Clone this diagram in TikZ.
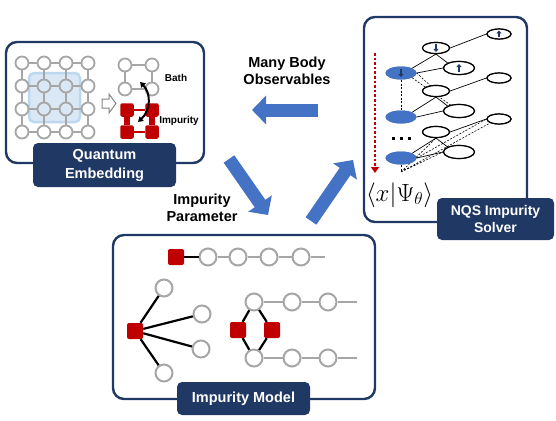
\documentclass[tikz,border=0pt]{standalone}
\usepackage{fontspec}
\setmainfont{Liberation Sans}
\usetikzlibrary{arrows.meta,shapes.geometric,calc}
\definecolor{navy}{HTML}{203864}
\definecolor{bblue}{HTML}{4472C4}
\definecolor{ired}{HTML}{C00000}
\definecolor{cgray}{HTML}{A6A6A6}
\definecolor{lblue}{HTML}{DAE8F6}
\definecolor{lblueb}{HTML}{BDD7EE}
\begin{document}
\begin{tikzpicture}[x=1pt,y=-1pt,
  panel/.style={draw=navy, line width=2.4pt, rounded corners=11pt, fill=white},
  tag/.style={fill=navy, rounded corners=5pt, text=white, font=\bfseries\fontsize{14.5}{19}\selectfont, align=center, inner sep=0pt},
  site/.style={circle, draw=cgray, line width=1.8pt, minimum size=13pt, inner sep=0pt},
  bsite/.style={circle, draw=cgray, line width=2pt, fill=white, minimum size=17pt, inner sep=0pt},
  imp/.style={fill=ired, rounded corners=2pt, minimum size=16pt, inner sep=0pt},
  simp/.style={fill=ired, rounded corners=2pt, minimum size=13.5pt, inner sep=0pt},
  glink/.style={draw=cgray, line width=2pt},
  klink/.style={draw=black, line width=2.2pt},
  rlink/.style={draw=ired, line width=2.5pt},
  bigarrow/.style={draw=bblue, line width=13pt, -{Triangle[length=14pt,width=28pt]}},
  vis/.style={ellipse, fill=bblue, minimum width=31pt, minimum height=13pt, inner sep=0pt},
  hidA/.style={ellipse, draw=black, line width=1.2pt, fill=white, minimum width=27pt, minimum height=11pt, inner sep=0pt},
  hidB/.style={ellipse, draw=black, line width=1.2pt, fill=white, minimum width=31pt, minimum height=13pt, inner sep=0pt},
  hidC/.style={ellipse, draw=black, line width=1.2pt, fill=white, minimum width=24pt, minimum height=10pt, inner sep=0pt},
  wsolid/.style={draw=black, line width=0.7pt},
  wdash/.style={draw=black, line width=0.6pt, dash pattern=on 2pt off 1.5pt},
  spin/.style={draw=navy, line width=1.6pt, -{Triangle[length=3pt,width=5pt]}},
  lbl/.style={font=\bfseries\fontsize{14.5}{17}\selectfont, align=center},
  small/.style={font=\bfseries\fontsize{10}{12}\selectfont}
]
\useasboundingbox (0,0) rectangle (556,420);

% ---------------- Quantum Embedding panel ----------------
\draw[panel] (6,42) rectangle (204,163);
\fill[lblue, draw=lblueb, line width=2.5pt, rounded corners=5pt] (29,73) rectangle (80,122);
\foreach \i in {0,1,2,3} {
  \foreach \j in {0,1,2,3} {
    \node[site] (g\i\j) at ({22+22*\i},{63+23*\j}) {};
  }
}
\foreach \i in {0,1,2,3} {
  \draw[glink] (g0\i) -- (g1\i) (g1\i) -- (g2\i) (g2\i) -- (g3\i);
  \draw[glink] (g\i0) -- (g\i1) (g\i1) -- (g\i2) (g\i2) -- (g\i3);
}
% hollow arrow
\draw[cgray!80!black, line width=1pt, fill=white]
  (102,99) -- (109,99) -- (109,94) -- (116,103.5) -- (109,113) -- (109,108) -- (102,108) -- cycle;
% bath
\node[site] (b1) at (125,65) {};
\node[site] (b2) at (152,65) {};
\node[site] (b3) at (125,89) {};
\node[site] (b4) at (152,89) {};
\draw[glink] (b1) -- (b2) (b1) -- (b3) (b2) -- (b4) (b3) -- (b4);
% impurity cluster
\node[simp] (i1) at (127,110) {};
\node[simp] (i2) at (152,110) {};
\node[simp] (i3) at (127,132) {};
\node[simp] (i4) at (152,132) {};
\draw[rlink, line width=5.5pt] (i1) -- (i3) (i2) -- (i4);
\draw[rlink, line width=2.5pt] (i1) -- (i2) (i3) -- (i4);
\node[small, anchor=center] (tbath) at (176,78) {Bath};
\node[small, anchor=center] (timp) at (179,121) {Impurity};
\coordinate (ca) at (140,82);
\coordinate (cb) at (138,122);
\draw[black, line width=2pt, {Triangle[length=5pt,width=6pt]}-{Triangle[length=5pt,width=6pt]}]
  (ca) .. controls (151,93) and (151,110) .. (cb);
\node[tag, minimum width=143pt, minimum height=44pt] (tagQE) at (104.5,165) {Quantum\\Embedding};

% ---------------- NQS panel ----------------
\draw[panel] (364,17) rectangle (527,222);
\coordinate (ra) at (375,53);
\coordinate (rb) at (375,173);
\draw[ired, line width=2.6pt, dash pattern=on 2.6pt off 2pt, -{Triangle[length=6pt,width=8pt]}] (ra) -- (rb);

\node[vis] (v1) at (401,73) {};
\node[vis] (v2) at (401,117) {};
\node[vis] (v3) at (401,158) {};
\coordinate (vb) at (401,172);

\node[hidA] (h1) at (436,48) {};
\node[hidB] (h2) at (459,68) {};
\node[hidC] (h3) at (499,34) {};
\node[hidA] (h4) at (436,91) {};
\node[hidB] (h5) at (459,111) {};
\node[hidC] (h6) at (499,78) {};
\node[hidA] (h7) at (436,132) {};
\node[hidB] (h8) at (459,152) {};
\node[hidC] (h9) at (499,119) {};

% solid links
\draw[wsolid] (v1.north east) -- (h1.south) (v1.east) -- (h2.west) (h1.south) -- (h2.north west) (h1.east) -- (h3.west);
\draw[wsolid] (v2.north east) -- (h4.south) (v2.east) -- (h5.west) (h4.south) -- (h5.north west) (h4.east) -- (h6.west);
\draw[wsolid] (v3.north east) -- (h7.south) (v3.east) -- (h8.west) (h7.south) -- (h8.north west) (h7.east) -- (h9.west);
% dashed links
\draw[wdash] (v1.center) -- (v2.center);
\draw[wdash] (v1.east) -- (h4.center) (v1.south east) -- (h5.center);
\draw[wdash] (v3.center) -- (vb);
\draw[wdash] (vb) -- (h7.south) (vb) -- (h8.west) (vb) -- (h9.south west) (v3.east) -- (h9.west);
% redraw ellipses on top
\node[vis] at (v1) {};
\node[vis] at (v2) {};
\node[vis] at (v3) {};
\foreach \n in {h1,h4,h7} {\node[hidA] at (\n) {};}
\foreach \n in {h2,h5,h8} {\node[hidB] at (\n) {};}
\foreach \n in {h3,h6,h9} {\node[hidC] at (\n) {};}
% spins
\draw[spin] ([yshift=4pt]v1.center) -- ([yshift=-4pt]v1.center);
\draw[spin] ([yshift=4pt]h1.center) -- ([yshift=-4pt]h1.center);
\draw[spin] ([yshift=-4pt]h2.center) -- ([yshift=4pt]h2.center);
\draw[spin] ([yshift=-3.5pt]h3.center) -- ([yshift=3.5pt]h3.center);
% dots
\fill[black] (391.5,136.5) rectangle (395,140);
\fill[black] (399.5,136.5) rectangle (403,140);
\fill[black] (407.5,136.5) rectangle (411,140);
\node[font=\fontsize{24}{28}\selectfont] (psi) at (399.5,195) {$\langle x|\Psi_\theta\rangle$};
\node[tag, minimum width=117pt, minimum height=42pt, font=\bfseries\fontsize{14}{17}\selectfont] (tagNQS) at (495.5,219) {NQS Impurity\\Solver};

% ---------------- Impurity Model panel ----------------
\draw[panel] (113,235) rectangle (375,399);
% top chain
\node[imp] (t0) at (176,257) {};
\node[bsite] (t1) at (208,257) {};
\node[bsite] (t2) at (238,257) {};
\node[bsite] (t3) at (269,257) {};
\node[bsite] (t4) at (301,257) {};
\coordinate (t5) at (325,257);
\draw[klink] (t0) -- (t1);
\draw[glink] (t1) -- (t2) (t2) -- (t3) (t3) -- (t4) (t4) -- (t5);
% star
\node[imp] (s0) at (135,331) {};
\node[bsite] (s1) at (164,288) {};
\node[bsite] (s2) at (202,314) {};
\node[bsite] (s3) at (201,349) {};
\node[bsite] (s4) at (164,373) {};
\draw[klink] (s0) -- (s1) (s0) -- (s2) (s0) -- (s3) (s0) -- (s4);
% ring
\node[imp] (r1) at (238,330) {};
\node[imp] (r2) at (272,330) {};
\node[bsite] (rt) at (254,302) {};
\node[bsite] (rbm) at (254,358) {};
\node[bsite] (u1) at (292,302) {};
\node[bsite] (u2) at (328,302) {};
\coordinate (u3) at (357,302);
\node[bsite] (d1) at (292,358) {};
\node[bsite] (d2) at (328,358) {};
\coordinate (d3) at (357,358);
\draw[klink] (rt) -- (r1) (rt) -- (r2) (rbm) -- (r1) (rbm) -- (r2);
\draw[glink] (rt) -- (u1) (u1) -- (u2) (u2) -- (u3);
\draw[glink] (rbm) -- (d1) (d1) -- (d2) (d2) -- (d3);
\node[tag, minimum width=133pt, minimum height=33pt] (tagIM) at (243.5,398.5) {Impurity Model};

% ---------------- cycle arrows and labels ----------------
\coordinate (a1s) at (318,110);
\coordinate (a1e) at (252,110);
\draw[bigarrow] (a1s) -- (a1e);
\coordinate (a2s) at (229,159);
\coordinate (a2e) at (268,215);
\draw[bigarrow] (a2s) -- (a2e);
\coordinate (a3s) at (311,221);
\coordinate (a3e) at (353,160);
\draw[bigarrow] (a3s) -- (a3e);
\node[lbl] (mbo) at (287,71) {Many Body\\Observables};
\node[lbl] (ipar) at (202,208) {Impurity\\Parameter};
\end{tikzpicture}
\end{document}
